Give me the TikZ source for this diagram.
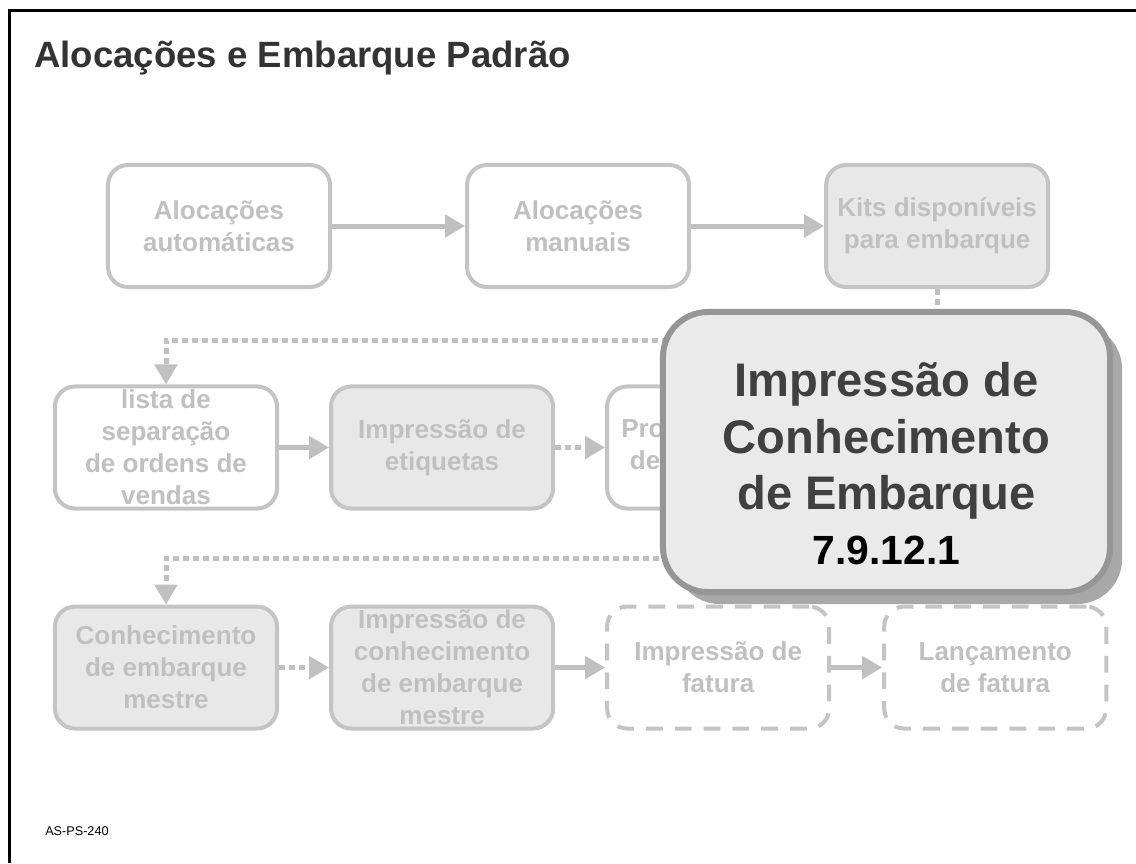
\documentclass[tikz,border=0pt]{standalone}
\usepackage{fontspec}
\setmainfont{Liberation Sans}
\usepackage{tikz}
\usetikzlibrary{positioning, arrows.meta, shadows}
\definecolor{linhacinza}{HTML}{C4C4C4}
\definecolor{textocinza}{HTML}{C0C0C0}
\definecolor{fundocinza}{HTML}{E8E8E8}
\definecolor{bordaforte}{HTML}{969696}
\definecolor{fundodestaque}{HTML}{EAEAEA}
\definecolor{sombra}{HTML}{A8A8A8}
\definecolor{textoforte}{HTML}{404040}
\definecolor{titulocinza}{HTML}{333333}
\tikzset{
  etapa/.style={rectangle, rounded corners=0.5cm, minimum width=5.55cm, minimum height=3.05cm, inner sep=1pt, align=center, draw=linhacinza, line width=0.1cm, fill=white, text=textocinza, font=\fontsize{18.5}{22.8}\selectfont\bfseries},
  etapacinza/.style={etapa, fill=fundocinza},
  etapafutura/.style={etapa, dash pattern=on 0.42cm off 0.3cm},
  destaque/.style={rectangle, rounded corners=1.125cm, minimum width=11.175cm, minimum height=7cm, draw=bordaforte, line width=0.15cm, fill=fundodestaque, text=textoforte, align=center, font=\fontsize{33.5}{40}\selectfont\bfseries, drop shadow={shadow xshift=0.3cm, shadow yshift=-0.3cm, fill=sombra, opacity=1}},
  seta/.style={line width=0.125cm, draw=textocinza, -{Triangle[length=0.5cm, width=0.55cm]}},
  setapont/.style={seta, dash pattern=on 0.15cm off 0.1cm}
}
\begin{document}
\begin{tikzpicture}[x=0.025cm, y=-0.025cm]
    \useasboundingbox (0,0) rectangle (1136,863);
    \draw [line width=0.075cm] (9.5,863) -- (9.5,10.5) -- (1136,10.5);

    \node (titulo) [anchor=base west, inner sep=0pt, text=titulocinza, font=\fontsize{26}{31}\selectfont\bfseries] at (34,67) {Alocações e Embarque Padrão};
    \node (codigo) [anchor=base west, inner sep=0pt, font=\fontsize{9}{11}\selectfont] at (45,835) {AS-PS-240};

    % 1. primeira linha
    \node (autom) [etapa] at (219,226) {Alocações\\automáticas};
    \node (manual) [etapa, right=3.325cm of autom] {Alocações\\manuais};
    \node (kits) [etapacinza, right=3.325cm of manual] {Kits disponíveis\\para embarque};

    % 2. segunda linha
    \node (lista) [etapa] at (166,447.5) {lista de\\separação\\de ordens de\\vendas};
    \node (etiq) [etapacinza, right=1.25cm of lista] {Impressão de\\etiquetas};
    \node (proc) [etapa, right=1.25cm of etiq] {Processamento\\de embarques};
    \coordinate (fimlinha2) at (990,509);

    % 3. terceira linha
    \node (mestre) [etapacinza, below=2.35cm of lista] {Conhecimento\\de embarque\\mestre};
    \node (impmestre) [etapacinza, right=1.25cm of mestre] {Impressão de\\conhecimento\\de embarque\\mestre};
    \node (fatura) [etapafutura, right=1.25cm of impmestre] {Impressão de\\fatura};
    \node (lanc) [etapafutura, right=1.275cm of fatura] {Lançamento\\de fatura};

    \draw [seta] (autom) -- (manual);
    \draw [seta] (manual) -- (kits);
    \draw [setapont] (kits.south) -- ++(0,51) -| (lista.north);
    \draw [seta] (lista) -- (etiq);
    \draw [setapont] (etiq) -- (proc);
    \draw [setapont] (fimlinha2) -- ++(0,49) -| (mestre.north);
    \draw [setapont] (mestre) -- (impmestre);
    \draw [seta] (impmestre) -- (fatura);
    \draw [seta] (fatura) -- (lanc);

    % 4. destaque por cima de tudo
    \node (destaque) [destaque] at (886.5,452) {\rule{0pt}{41pt}Impressão de\\Conhecimento\\de Embarque\\[-1pt]{\fontsize{29}{32}\selectfont\color{black}7.9.12.1}};
\end{tikzpicture}
\end{document}
